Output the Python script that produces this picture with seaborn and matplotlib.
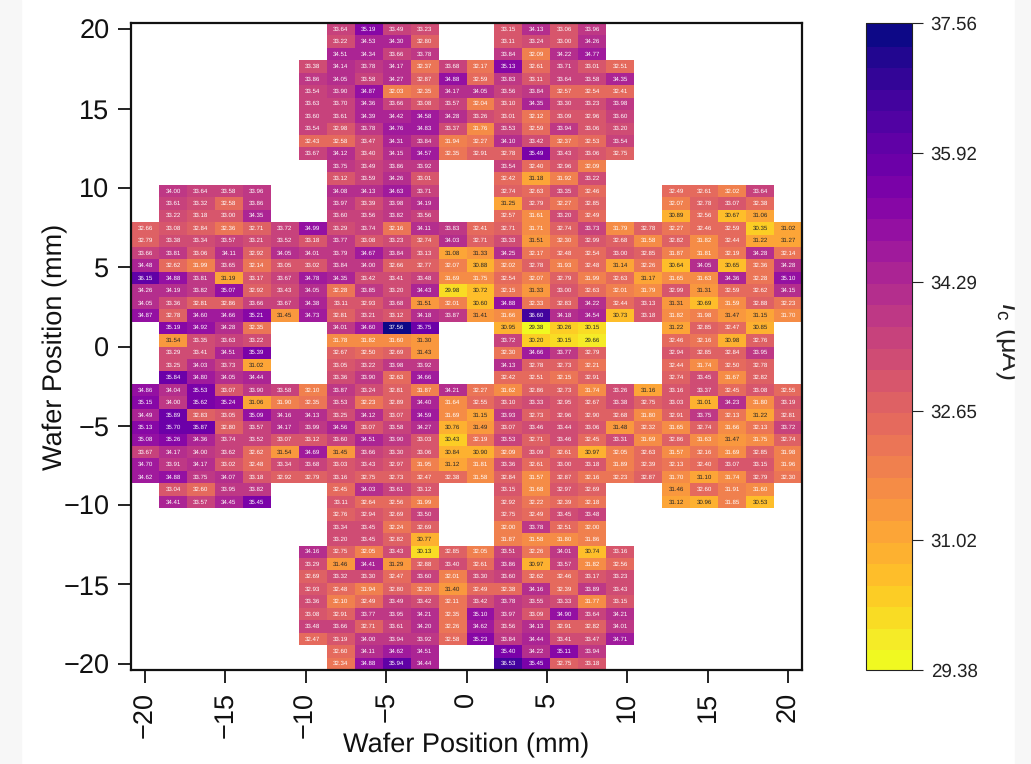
import numpy as np
import pandas as pd
import matplotlib
matplotlib.use("Agg")
import matplotlib.pyplot as plt
import seaborn as sns
from matplotlib.patches import Rectangle

# Column groups of the wafer layout (24 columns x 52 rows)
COLS_MID = [7, 8, 9, 10, 13, 14, 15, 16]
COLS_WIDE = list(range(6, 18))
COLS_ISLAND = [1, 2, 3, 4, 7, 8, 9, 10, 13, 14, 15, 16, 19, 20, 21, 22]
COLS_FULL = list(range(24))

top_a = [
    [33.64, 35.19, 33.49, 33.23, 33.15, 34.13, 33.06, 33.96],
    [33.22, 34.53, 34.30, 32.80, 33.11, 33.24, 33.00, 34.26],
    [34.51, 34.34, 33.66, 33.78, 33.84, 32.09, 34.22, 34.77],
]
top_b = [
    [33.38, 34.14, 33.78, 34.17, 32.37, 33.68, 32.17, 35.13, 32.61, 33.71, 33.01, 32.51],
    [33.86, 34.05, 33.58, 34.27, 32.87, 34.88, 32.59, 33.83, 33.11, 33.64, 33.58, 34.35],
    [33.54, 33.90, 34.87, 32.03, 32.35, 34.17, 34.05, 33.56, 33.84, 32.57, 32.54, 32.41],
    [33.63, 33.70, 34.36, 33.66, 33.08, 33.57, 32.04, 33.10, 34.35, 33.30, 33.23, 33.98],
    [33.60, 33.61, 34.39, 34.42, 34.58, 34.28, 33.26, 33.01, 32.12, 33.09, 32.96, 33.60],
    [33.54, 32.98, 33.78, 34.76, 34.83, 33.37, 31.76, 33.53, 32.59, 33.94, 33.06, 33.20],
    [32.43, 32.58, 33.47, 34.31, 33.84, 31.94, 32.27, 34.10, 33.42, 32.37, 32.53, 33.54],
    [33.67, 34.12, 33.40, 34.15, 34.57, 32.35, 32.91, 32.78, 35.49, 33.43, 33.06, 32.75],
]
top_c = [
    [33.75, 33.49, 33.86, 33.92, 33.54, 32.40, 32.96, 32.09],
    [33.12, 33.59, 34.26, 33.01, 32.42, 31.18, 31.92, 33.22],
]
top_d = [
    [34.00, 33.64, 33.58, 33.96, 34.08, 34.13, 34.63, 33.71, 32.74, 32.63, 33.35, 32.46, 32.49, 32.61, 32.02, 33.64],
    [33.61, 33.32, 32.58, 33.86, 33.97, 33.39, 33.98, 34.19, 31.25, 32.79, 32.27, 32.85, 32.07, 32.78, 33.07, 32.38],
    [33.22, 33.18, 33.00, 34.35, 33.60, 33.56, 33.82, 33.56, 32.57, 31.61, 33.20, 32.49, 30.89, 32.56, 30.67, 31.06],
]
upper_full = [
    [32.66, 33.08, 32.84, 32.36, 32.71, 33.72, 34.99, 33.29, 33.74, 32.16, 34.11, 33.83, 32.41, 32.71, 31.71, 32.74, 33.73, 31.79, 32.78, 32.27, 32.46, 32.59, 30.35, 31.02],
    [32.79, 33.38, 33.34, 33.57, 33.21, 33.52, 33.18, 33.77, 33.08, 33.23, 32.74, 34.03, 32.71, 33.33, 31.51, 32.30, 32.99, 32.68, 31.58, 32.82, 31.82, 32.44, 31.22, 31.27],
    [33.66, 33.81, 33.06, 34.11, 32.92, 34.05, 34.01, 33.79, 34.67, 33.84, 33.13, 31.08, 31.33, 34.25, 32.17, 32.48, 32.54, 33.00, 32.85, 31.87, 31.81, 32.19, 34.28, 32.14],
    [34.48, 32.62, 31.99, 33.65, 32.14, 33.05, 33.02, 33.84, 34.00, 32.66, 32.77, 32.07, 30.88, 32.02, 32.78, 31.93, 32.48, 31.14, 32.26, 30.64, 34.05, 30.65, 32.36, 34.28],
    [36.15, 34.88, 33.81, 31.19, 33.17, 33.67, 34.78, 34.35, 33.42, 33.41, 33.48, 31.69, 31.75, 32.54, 32.07, 32.79, 31.99, 32.63, 31.17, 31.65, 31.63, 34.36, 32.28, 35.10],
    [34.26, 34.19, 33.82, 35.07, 32.92, 33.43, 34.05, 32.28, 33.85, 33.20, 34.43, 29.98, 30.72, 32.15, 31.33, 33.00, 32.63, 32.01, 31.79, 32.99, 31.31, 32.59, 32.62, 34.15],
    [34.05, 33.36, 32.81, 32.86, 33.66, 33.67, 34.38, 33.11, 32.93, 33.68, 31.51, 32.01, 30.60, 34.88, 32.33, 32.83, 34.22, 32.44, 33.13, 31.31, 30.69, 31.59, 32.88, 32.23],
    [34.87, 32.78, 34.60, 34.66, 35.21, 31.45, 34.73, 32.81, 33.21, 33.12, 34.18, 33.87, 31.41, 31.66, 36.60, 34.18, 34.54, 30.73, 33.18, 31.82, 31.98, 31.47, 31.15, 31.70],
]
mid_islands = [
    [35.19, 34.92, 34.28, 32.35, 34.01, 34.60, 37.56, 35.75, 30.95, 29.38, 30.26, 30.15, 31.22, 32.85, 32.47, 30.85],
    [31.54, 33.35, 33.63, 33.22, 31.78, 31.82, 31.60, 31.30, 33.72, 30.20, 30.15, 29.66, 32.46, 32.16, 30.98, 32.76],
    [33.29, 33.41, 34.51, 35.39, 32.67, 32.50, 32.69, 31.43, 32.30, 34.66, 33.77, 32.79, 32.94, 32.85, 32.84, 33.95],
    [33.25, 34.03, 33.73, 31.02, 33.05, 33.22, 33.98, 33.92, 34.13, 32.78, 32.73, 32.21, 32.44, 31.74, 32.50, 32.78],
    [35.84, 34.80, 34.05, 34.44, 33.36, 33.90, 32.63, 34.66, 32.42, 32.51, 32.15, 32.91, 32.74, 33.45, 31.67, 32.82],
]
lower_full = [
    [34.86, 34.04, 35.53, 33.07, 33.90, 33.58, 32.10, 33.87, 33.24, 32.81, 31.87, 34.21, 32.27, 31.62, 32.86, 32.73, 31.74, 33.26, 31.16, 33.16, 33.37, 32.45, 33.08, 32.55],
    [35.15, 34.00, 35.62, 35.24, 31.06, 31.90, 32.35, 33.53, 32.23, 32.89, 34.40, 31.64, 32.55, 33.10, 33.33, 32.95, 32.67, 33.38, 32.75, 33.03, 31.01, 34.23, 31.80, 33.19],
    [34.49, 35.89, 32.83, 33.05, 35.09, 34.16, 34.13, 33.25, 34.12, 33.07, 34.59, 31.69, 31.15, 33.93, 32.73, 32.96, 32.90, 32.68, 31.80, 32.91, 33.75, 32.13, 31.22, 32.81],
    [35.13, 35.70, 35.87, 32.80, 33.57, 34.17, 33.99, 34.56, 33.07, 33.58, 34.27, 30.76, 31.49, 33.07, 33.46, 33.44, 33.06, 31.48, 32.32, 31.65, 32.74, 31.66, 32.13, 33.72],
    [35.08, 35.26, 34.36, 33.74, 33.52, 33.07, 33.12, 33.60, 34.51, 33.90, 33.03, 30.43, 32.19, 33.53, 32.71, 33.46, 32.45, 33.31, 31.69, 32.86, 31.63, 31.47, 31.75, 32.74],
    [33.67, 34.17, 34.00, 33.62, 32.62, 31.54, 34.69, 31.45, 33.66, 33.30, 33.06, 30.84, 30.90, 32.09, 33.09, 32.61, 30.97, 32.05, 32.63, 31.57, 32.16, 31.69, 32.85, 31.98],
    [34.70, 33.91, 34.17, 33.02, 32.48, 33.34, 33.68, 33.03, 33.43, 32.97, 31.95, 31.12, 31.81, 33.36, 32.61, 33.00, 33.18, 31.89, 32.39, 32.13, 32.40, 33.07, 33.15, 31.96],
    [34.62, 34.88, 33.75, 34.07, 33.18, 32.92, 32.79, 33.16, 32.75, 32.73, 32.47, 32.38, 31.58, 32.84, 31.57, 32.87, 32.16, 32.23, 32.87, 31.70, 31.10, 31.74, 32.79, 32.30],
]
low_islands = [
    [33.04, 32.60, 33.95, 33.82, 32.45, 34.03, 33.61, 33.12, 33.15, 31.68, 32.97, 32.69, 31.46, 32.60, 31.91, 31.60],
    [34.41, 33.57, 34.45, 35.45, 33.11, 32.64, 32.56, 31.99, 32.92, 32.22, 32.39, 32.18, 31.12, 30.96, 31.85, 30.53],
]
bottom_a = [
    [32.76, 32.94, 32.69, 33.50, 32.75, 32.49, 33.45, 33.48],
    [33.34, 33.45, 32.24, 32.69, 32.00, 33.78, 32.51, 32.00],
    [33.20, 33.45, 32.82, 30.77, 31.87, 31.58, 31.80, 31.86],
]
bottom_b = [
    [34.16, 32.75, 32.05, 33.43, 30.13, 32.85, 32.05, 33.51, 32.26, 34.01, 30.74, 33.16],
    [33.29, 31.46, 34.41, 31.29, 32.88, 33.40, 32.61, 33.86, 30.97, 33.57, 31.82, 32.56],
    [32.69, 33.32, 33.30, 32.47, 33.60, 32.01, 33.30, 33.60, 32.62, 32.46, 33.17, 33.23],
    [32.93, 32.48, 31.94, 32.80, 32.20, 31.40, 32.49, 32.38, 34.16, 32.39, 33.89, 33.43],
    [33.36, 32.10, 32.49, 33.49, 33.42, 32.11, 33.42, 33.78, 33.55, 33.33, 31.77, 33.15],
    [33.08, 32.91, 33.77, 33.95, 34.21, 32.35, 35.10, 33.97, 33.09, 34.90, 33.64, 34.21],
    [33.48, 33.66, 32.71, 33.61, 34.20, 32.26, 34.62, 33.56, 34.13, 32.91, 32.82, 34.01],
    [32.47, 33.19, 34.00, 33.94, 33.92, 32.58, 35.23, 33.84, 34.44, 33.41, 33.47, 34.71],
]
bottom_c = [
    [32.60, 34.11, 34.62, 34.51, 35.40, 34.22, 35.11, 33.94],
    [32.34, 34.88, 35.94, 34.44, 36.53, 35.45, 32.75, 33.18],
]

sections = [
    (COLS_MID, top_a), (COLS_WIDE, top_b), (COLS_MID, top_c), (COLS_ISLAND, top_d),
    (COLS_FULL, upper_full), (COLS_ISLAND, mid_islands), (COLS_FULL, lower_full),
    (COLS_ISLAND, low_islands), (COLS_MID, bottom_a), (COLS_WIDE, bottom_b), (COLS_MID, bottom_c),
]

CBAR_TICKS = [29.38, 31.02, 32.65, 34.29, 35.92, 37.56]
AXIS_TICKS = [-20, -15, -10, -5, 0, 5, 10, 15, 20]

# Fill the wafer grid, empty dies stay NaN
grid = np.full((52, 24), np.nan)
row = 0
for cols, rows in sections:
    for vals in rows:
        grid[row, cols] = vals
        row += 1

df = pd.DataFrame(grid, index=np.linspace(20, -20, 52), columns=np.linspace(-20, 20, 24))

sns.set_theme(style="white")
plt.rcParams["font.family"] = ["Liberation Sans", "DejaVu Sans"]
plt.rcParams["mathtext.fontset"] = "custom"
plt.rcParams["mathtext.rm"] = "Liberation Sans"
plt.rcParams["mathtext.it"] = "Liberation Sans:italic"
plt.rcParams["text.hinting"] = "no_hinting"

W, H = 1031, 764
fig = plt.figure(figsize=(W / 100, H / 100), dpi=100, facecolor="white")
ax = fig.add_axes([131 / W, 1 - 670 / H, 671 / W, 647 / H])
cax = fig.add_axes([866 / W, 1 - 670 / H, 46 / W, 647 / H])

sns.heatmap(
    df, ax=ax, cbar_ax=cax, cmap=plt.get_cmap("plasma_r").resampled(30),
    vmin=29.38, vmax=37.56, annot=True, fmt=".2f", annot_kws={"size": 4.4},
    xticklabels=False, yticklabels=False,
)

# Wafer ticks sit in the die centres
ax.set_xticks([(t + 20) / (40 / 23) + 0.5 for t in AXIS_TICKS])
ax.set_xticklabels([str(t).replace("-", "\u2212") for t in AXIS_TICKS], rotation=90, fontsize=19.5, color="#111111")
ax.set_yticks([(20 - t) / (40 / 51) + 0.5 for t in AXIS_TICKS])
ax.set_yticklabels([str(t).replace("-", "\u2212") for t in AXIS_TICKS], rotation=0, fontsize=19.5, color="#111111")
ax.tick_params(axis="both", bottom=True, left=True, length=9.5, width=1.3, color="#111111", pad=6)
ax.set_xlabel("Wafer Position (mm)", fontsize=19.5, color="#111111")
ax.set_ylabel("Wafer Position (mm)", fontsize=19.5, color="#111111")
ax.xaxis.set_label_coords(0.5, -0.097)
ax.yaxis.set_label_coords(-0.094, 0.5)
for spine in ax.spines.values():
    spine.set_visible(True)
    spine.set_linewidth(1.6)
    spine.set_color("#111111")

cb = ax.collections[0].colorbar
cb.set_ticks(CBAR_TICKS)
cb.set_ticklabels([f"{t:.2f}" for t in CBAR_TICKS])
cb.solids.set_edgecolor("face")
cax.tick_params(right=True, length=8, width=0.8, color="#222222", labelsize=13.5, labelcolor="#222222", pad=5.5)
cb.outline.set_visible(True)
cb.outline.set_linewidth(0.8)
cb.outline.set_edgecolor("#222222")

fig.text(1008 / W, 1 - 341 / H, r"$\mathit{I}_{\mathrm{c}}$ (μA)", rotation=270,
         ha="center", va="center", fontsize=19.5, color="#222222")

# Grey page strips either side of the pasted figure
fig.add_artist(Rectangle((0, 0), 21 / W, 1, transform=fig.transFigure, color="#f7f7f7", zorder=10))
fig.add_artist(Rectangle((1015 / W, 0), 16 / W, 1, transform=fig.transFigure, color="#f7f7f7", zorder=10))

fig.savefig("out.png", dpi=100)
